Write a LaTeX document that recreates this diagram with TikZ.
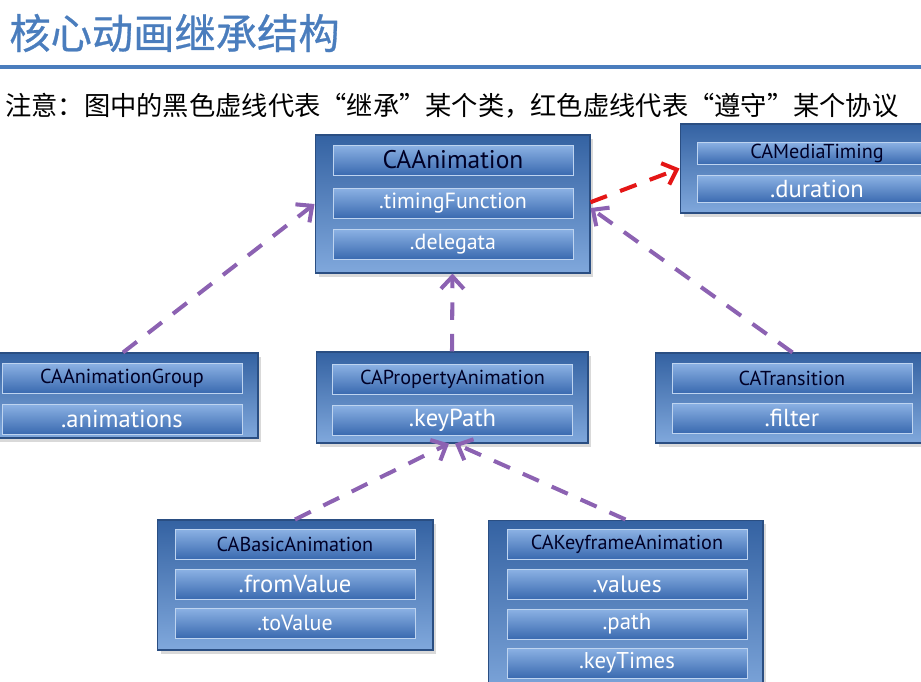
\documentclass[tikz,border=0pt]{standalone}
\usepackage{fontspec}
\setmainfont{PT Sans}
\newfontfamily\cjk{Noto Sans CJK SC}
\newfontfamily\cjkhead[FakeBold=0.7]{Noto Sans CJK SC}
\usetikzlibrary{arrows.meta,shadows}

\definecolor{titleblue}{RGB}{74,125,189}
\definecolor{boxtop}{RGB}{52,98,162}
\definecolor{boxbot}{RGB}{128,168,220}
\definecolor{rowtop}{RGB}{140,178,228}
\definecolor{rowbot}{RGB}{58,106,176}
\definecolor{rowline}{RGB}{190,212,240}
\definecolor{inherit}{RGB}{140,98,178}
\definecolor{conform}{RGB}{228,22,22}

\tikzset{
  classbox/.style={draw=boxtop!80!black, line width=0.6pt, top color=boxtop, bottom color=boxbot,
    inner sep=0pt, drop shadow={opacity=0.3, shadow xshift=2pt, shadow yshift=-2pt}},
  rowbox/.style={draw=rowline, line width=0.5pt, top color=rowtop, bottom color=rowbot,
    minimum width=4.8cm, minimum height=0.6cm, inner sep=0pt},
  rowtitle/.style={rowbox, text=black!85!blue, font=\fontsize{11.5}{12}\selectfont},
  rowfield/.style={rowbox, text=white, font=\fontsize{13}{14}\selectfont},
  inheritline/.style={draw=inherit, line width=2.3pt, dash pattern=on 10pt off 8pt,
    -{Straight Barb[length=7pt,width=13pt]}},
  conformline/.style={inheritline, draw=conform},
}

\begin{document}
\begin{tikzpicture}[x=0.02cm, y=-0.02cm]
\useasboundingbox (0,0) rectangle (921,681);
\clip (0,0) rectangle (921,681);

% heading
\node[anchor=west, inner sep=0pt, text=titleblue, font=\cjkhead\fontsize{23.5}{24}\selectfont] (title) at (9,33) {核心动画继承结构};
\fill[titleblue] (0,65) rectangle (921,69); %rule
\node[anchor=west, inner sep=0pt, font=\cjk\fontsize{14.95}{16}\selectfont] (note) at (5,106) {注意：图中的黑色虚线代表“继承”某个类，红色虚线代表“遵守”某个协议};

% CAAnimation
\node[classbox, minimum width=5.5cm, minimum height=2.76cm] (anim) at (452.5,204) {};
\node[rowtitle, font=\fontsize{14.5}{15}\selectfont] (animA) at (453,160) {CAAnimation};
\node[rowfield, font=\fontsize{12.5}{13}\selectfont] (animB) at (453,203) {.timingFunction};
\node[rowfield, font=\fontsize{12.5}{13}\selectfont] (animC) at (453,244) {.delegata};

% CAMediaTiming
\node[classbox, minimum width=5.5cm, minimum height=1.78cm] (media) at (817.5,168.5) {};
\node[rowtitle, minimum height=0.44cm, font=\fontsize{11.5}{12}\selectfont] (mediaA) at (817,153) {CAMediaTiming};
\node[rowfield, minimum height=0.54cm, font=\fontsize{14}{15}\selectfont] (mediaB) at (817,189) {.duration};

% CAAnimationGroup
\node[classbox, minimum width=5.4cm, minimum height=1.7cm] (grp) at (123,395.5) {};
\node[rowtitle] (grpA) at (122,378) {CAAnimationGroup};
\node[rowfield, font=\fontsize{14}{15}\selectfont] (grpB) at (122,419) {.animations};

% CAPropertyAnimation
\node[classbox, minimum width=5.44cm, minimum height=1.82cm] (prop) at (452,397.5) {};
\node[rowtitle] (propA) at (452.5,379) {CAPropertyAnimation};
\node[rowfield, font=\fontsize{14}{15}\selectfont] (propB) at (452.5,420) {.keyPath};

% CATransition
\node[classbox, minimum width=5.5cm, minimum height=1.8cm] (trans) at (792.5,398) {};
\node[rowtitle] (transA) at (792,378) {CATransition};
\node[rowfield, font=\fontsize{14}{15}\selectfont] (transB) at (792,418) {.filter};

% CABasicAnimation
\node[classbox, minimum width=5.52cm, minimum height=2.6cm] (basic) at (295,585) {};
\node[rowtitle] (basicA) at (295,544) {CABasicAnimation};
\node[rowfield, font=\fontsize{14}{15}\selectfont] (basicB) at (295,584) {.fromValue};
\node[rowfield, font=\fontsize{12.5}{13}\selectfont] (basicC) at (295,623) {.toValue};

% CAKeyframeAnimation
\node[classbox, minimum width=5.5cm, minimum height=3.6cm] (key) at (625.5,610) {};
\node[rowtitle] (keyA) at (627,544) {CAKeyframeAnimation};
\node[rowfield, font=\fontsize{13.5}{14}\selectfont] (keyB) at (627,584) {.values};
\node[rowfield] (keyC) at (627,624) {.path};
\node[rowfield] (keyD) at (627,663) {.keyTimes};

% inheritance and protocol
\draw[inheritline] (grp.north) -- (anim.west);
\draw[inheritline] (prop.north) -- (anim.south);
\draw[inheritline] (trans.north) -- ([yshift=-2.3pt]anim.east);
\draw[inheritline] (basic.north) -- ([xshift=-1.7pt]prop.south);
\draw[inheritline] (key.north) -- ([xshift=1.7pt]prop.south);
\draw[conformline] ([yshift=1pt]anim.east) -- (media.west);
\end{tikzpicture}
\end{document}
